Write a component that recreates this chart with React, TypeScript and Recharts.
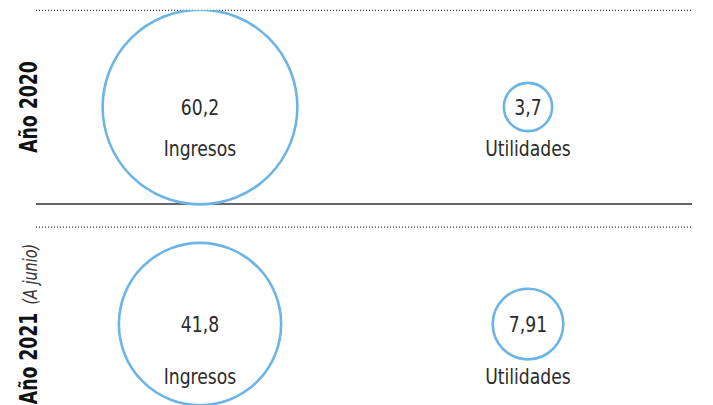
import { ReferenceLine, Scatter, ScatterChart, XAxis, YAxis, ZAxis } from "recharts";

const years = ["Año 2020", "Año 2021"];
const yearNotes = ["", "(A junio)"];
const categories = ["Ingresos", "Utilidades"];
const ingresos = [60.2, 41.8];
const utilidades = [3.7, 7.91];

const FONT = "'DejaVu Sans Condensed', 'DejaVu Sans', sans-serif";
const BLUE = "#6cb4e6";
const INK = "#2b2b2b";
// px radius per sqrt(unit): bubble area is proportional to the value
const K = 12.55;
// squeeze glyphs horizontally to get closer to a condensed face
const SQUEEZE = 0.87;

const rows = years.map((_, i) => [ingresos[i], utilidades[i]]);

const data = years.flatMap((year, i) =>
  categories.map((cat, j) => ({
    x: j + 0.5,
    y: i,
    z: rows[i][j],
    name: cat,
    year,
    row: i,
  }))
);

const fmt = (v: number) => String(v).replace(".", ",");

const Label = ({ x, y, children }: { x: number; y: number; children: any }) => (
  <g transform={`translate(${x} ${y}) scale(${SQUEEZE} 1)`}>
    <text x={0} y={0} textAnchor="middle" fontFamily={FONT} fontSize={22} fill={INK}>
      {children}
    </text>
  </g>
);

const Bubble = (props: any) => {
  const { cx, cy, size, payload } = props;
  const r = Math.sqrt(size / Math.PI);
  const rowMin = Math.min(...rows[payload.row]);
  const rSmall = r * Math.sqrt(rowMin / payload.z);
  return (
    <g>
      <circle cx={cx} cy={cy} r={r} fill="#fff" stroke={BLUE} strokeWidth={2.6} />
      <Label x={cx} y={cy + 8}>
        {fmt(payload.z)}
      </Label>
      <Label x={cx} y={cy + rSmall + 25}>
        {payload.name}
      </Label>
    </g>
  );
};

const YearTick = (props: any) => {
  const { y, payload } = props;
  const i = payload.value;
  const x = 37;
  return (
    <g transform={`translate(${x} ${y}) rotate(-90) scale(0.8 1)`}>
      <text x={0} y={0} textAnchor="middle" fontFamily={FONT} fill="#111">
        <tspan fontSize={24} fontWeight={700}>
          {years[i]}
        </tspan>
        {yearNotes[i] ? (
          <tspan fontSize={20} fontStyle="italic" dx={10} fill="#333">
            {yearNotes[i]}
          </tspan>
        ) : null}
      </text>
    </g>
  );
};

export default function App() {
  return (
    <div style={{ position: "absolute", left: 0, top: 0, background: "#fff" }}>
      <ScatterChart
        width={713}
        height={405}
        margin={{ top: 10, right: 21, bottom: 0, left: 0 }}
      >
        <XAxis type="number" dataKey="x" domain={[0, 2]} hide />
        <YAxis
          type="number"
          dataKey="y"
          domain={[-0.447, 1.373]}
          reversed
          ticks={[0, 1]}
          width={36}
          axisLine={false}
          tickLine={false}
          tick={<YearTick />}
          allowDataOverflow
        />
        <ZAxis type="number" dataKey="z" domain={[0, 100]} range={[0, 100 * Math.PI * K * K]} />
        <ReferenceLine y={-0.445} stroke="#333" strokeWidth={1.2} strokeDasharray="1 2" />
        <ReferenceLine y={0.447} stroke="#333" strokeWidth={1.5} />
        <ReferenceLine y={0.553} stroke="#333" strokeWidth={1.2} strokeDasharray="1 2" />
        <Scatter data={data} shape={<Bubble />} isAnimationActive={false} />
      </ScatterChart>
    </div>
  );
}
